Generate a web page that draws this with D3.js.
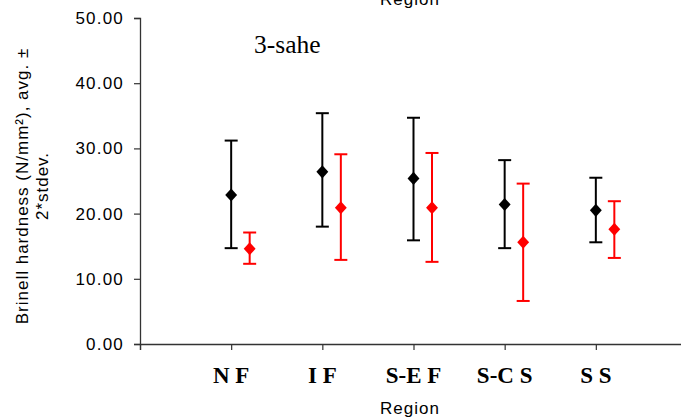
<!DOCTYPE html>
<html>
<head>
<meta charset="utf-8">
<script src="https://cdn.jsdelivr.net/npm/d3@7"></script>
<style>
  html, body { margin: 0; padding: 0; background: #fff; }
  svg { display: block; }
</style>
</head>
<body>
<svg id="chart" width="681" height="419"></svg>
<script>
// Regions along the x axis
const regions = ["N F", "I F", "S-E F", "S-C S", "S S"];
// First series (black): average and ±2*stdev bounds
const blackMean  = [22.85, 26.4, 25.4, 21.4, 20.5];
const blackUpper = [31.2, 35.4, 34.7, 28.2, 25.5];
const blackLower = [14.7, 18.0, 15.9, 14.7, 15.6];
// Second series (red): average and ±2*stdev bounds
const redMean  = [14.6, 20.9, 20.9, 15.6, 17.6];
const redUpper = [17.1, 29.1, 29.3, 24.6, 21.9];
const redLower = [12.3, 12.9, 12.6, 6.6, 13.2];
// Y tick values
const yTicks = [0, 10, 20, 30, 40, 50];

const svg = d3.select("#chart");
const x0 = 140, x1 = 687, yTop = 18, yBot = 344;
const sans = "Arial, 'Liberation Sans', sans-serif";
const serif = "'Liberation Serif', 'Times New Roman', serif";

const y = d3.scaleLinear().domain([0, 50]).range([yBot, yTop]);
// category positions: index 1..5 on a 0..6 axis
const x = d3.scaleLinear().domain([0, 6]).range([x0, x1]);
const redOffset = 18.5;

// Y axis
const yAxis = svg.append("g").attr("transform", `translate(${x0},0)`)
  .call(d3.axisLeft(y).tickValues(yTicks).tickFormat(d3.format(".2f")).tickSizeOuter(0).tickSize(6).tickPadding(10));
yAxis.select(".domain").attr("stroke", "#333").attr("stroke-width", 1.3);
yAxis.selectAll(".tick line").attr("stroke", "#333").attr("stroke-width", 1.2);
yAxis.selectAll(".tick text").attr("font-family", sans)
  .attr("font-size", 17).attr("letter-spacing", 1.2).attr("fill", "#000");

// X axis
const xAxis = svg.append("g").attr("transform", `translate(0,${yBot})`)
  .call(d3.axisBottom(x).tickValues([0, 1, 2, 3, 4, 5]).tickFormat("").tickSizeOuter(0).tickSize(6));
xAxis.select(".domain").attr("stroke", "#333").attr("stroke-width", 1.3);
xAxis.selectAll(".tick line").attr("stroke", "#333").attr("stroke-width", 1.2);

// Category labels
svg.append("g").selectAll("text").data(regions).join("text")
  .attr("x", (d, i) => x(i + 1))
  .attr("y", 383)
  .attr("text-anchor", "middle")
  .attr("font-family", serif)
  .attr("font-weight", "bold")
  .attr("font-size", 23)
  .text(d => d);

// Axis titles
svg.append("text").attr("x", 410).attr("y", 414)
  .attr("font-family", sans).attr("font-size", 17).attr("letter-spacing", 1)
  .attr("text-anchor", "middle")
  .text("Region");
svg.append("text").attr("x", 410).attr("y", 5).attr("text-anchor", "middle")
  .attr("font-family", sans).attr("font-size", 17).attr("letter-spacing", 1)
  .text("Region");

const yTitle = svg.append("text")
  .attr("transform", "translate(28,186) rotate(-90)")
  .attr("text-anchor", "middle")
  .attr("font-family", sans).attr("font-size", 17).attr("letter-spacing", 1);
yTitle.append("tspan").attr("x", 0).attr("dy", 0).text("Brinell hardness (N/mm²), avg. ±");
yTitle.append("tspan").attr("x", 0).attr("dy", 19.5).text("2*stdev.");

// Annotation
svg.append("text").attr("x", 254).attr("y", 53)
  .attr("font-family", serif).attr("font-size", 25.5)
  .text("3-sahe");

// Error bars with diamond markers
function drawSeries(mean, upper, lower, color, offset) {
  const g = svg.append("g");
  const cap = 6.5;
  const pts = mean.map((m, i) => ({ i, m, u: upper[i], l: lower[i], cx: x(i + 1) + offset }));
  g.selectAll("line.v").data(pts).join("line")
    .attr("x1", d => d.cx).attr("x2", d => d.cx)
    .attr("y1", d => y(d.u)).attr("y2", d => y(d.l))
    .attr("stroke", color).attr("stroke-width", 2);
  g.selectAll("line.u").data(pts).join("line")
    .attr("x1", d => d.cx - cap).attr("x2", d => d.cx + cap)
    .attr("y1", d => y(d.u)).attr("y2", d => y(d.u))
    .attr("stroke", color).attr("stroke-width", 2);
  g.selectAll("line.l").data(pts).join("line")
    .attr("x1", d => d.cx - cap).attr("x2", d => d.cx + cap)
    .attr("y1", d => y(d.l)).attr("y2", d => y(d.l))
    .attr("stroke", color).attr("stroke-width", 2);
  g.selectAll("path").data(pts).join("path")
    .attr("d", d3.symbol(d3.symbolDiamond2, 90))
    .attr("transform", d => `translate(${d.cx},${y(d.m)}) scale(1,1.1)`)
    .attr("fill", color);
}
drawSeries(blackMean, blackUpper, blackLower, "#000", 0);
drawSeries(redMean, redUpper, redLower, "#ff0000", redOffset);
</script>
</body>
</html>
